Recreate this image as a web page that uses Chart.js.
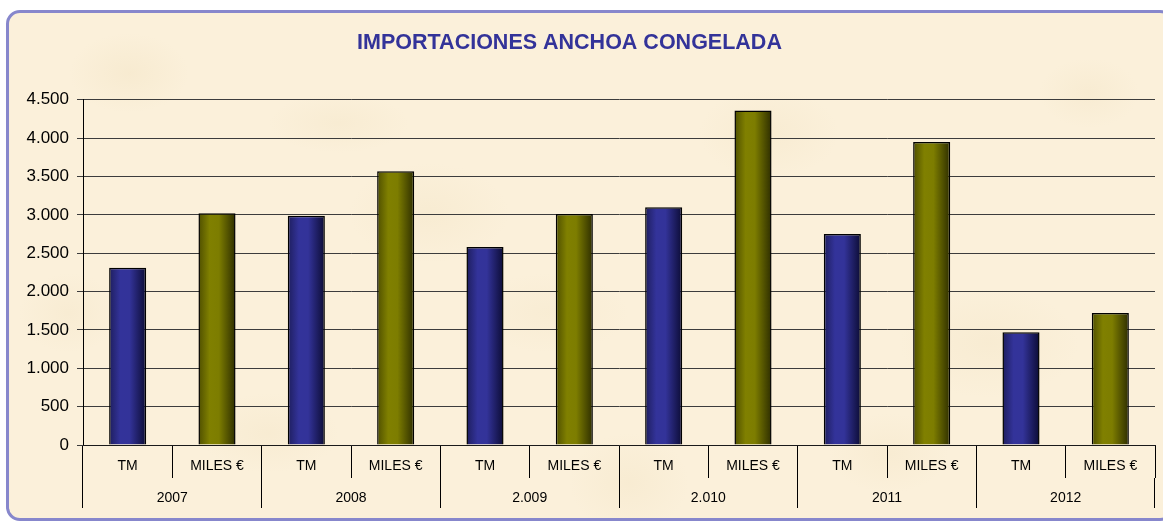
<!DOCTYPE html>
<html>
<head>
<meta charset="utf-8">
<script src="https://cdn.jsdelivr.net/npm/chart.js@4/dist/chart.umd.min.js"></script>
<style>
  html, body { margin: 0; padding: 0; background: #ffffff; overflow: hidden; width: 1163px; height: 522px; }
  #frame {
    position: absolute; left: 6px; top: 10px; width: 1162px; height: 505px;
    border: 3px solid #8787cc; border-radius: 14px;
    background-color: #fbf0da;
    background-image:
      radial-gradient(ellipse 60px 40px at 120px 60px, rgba(230,210,165,0.18), rgba(0,0,0,0)),
      radial-gradient(ellipse 80px 50px at 420px 200px, rgba(230,210,165,0.15), rgba(0,0,0,0)),
      radial-gradient(ellipse 70px 45px at 760px 120px, rgba(230,210,165,0.15), rgba(0,0,0,0)),
      radial-gradient(ellipse 90px 55px at 980px 330px, rgba(230,210,165,0.15), rgba(0,0,0,0)),
      radial-gradient(ellipse 70px 40px at 260px 420px, rgba(230,210,165,0.15), rgba(0,0,0,0)),
      radial-gradient(ellipse 60px 50px at 620px 470px, rgba(230,210,165,0.15), rgba(0,0,0,0)),
      radial-gradient(ellipse 50px 35px at 1080px 80px, rgba(230,210,165,0.15), rgba(0,0,0,0)),
      radial-gradient(ellipse 70px 30px at 330px 110px, rgba(230,210,165,0.14), rgba(0,0,0,0)),
      radial-gradient(ellipse 60px 40px at 880px 440px, rgba(230,210,165,0.14), rgba(0,0,0,0)),
      radial-gradient(ellipse 80px 40px at 540px 300px, rgba(230,210,165,0.12), rgba(0,0,0,0)),
      radial-gradient(ellipse 50px 40px at 60px 300px, rgba(230,210,165,0.14), rgba(0,0,0,0));
  }
  #c { position: absolute; left: 0; top: 0; }
</style>
</head>
<body>
<div id="frame"></div>
<canvas id="c" width="1163" height="522"></canvas>
<script>
// ---- data ----
const years = ['2007', '2008', '2.009', '2.010', '2011', '2012'];
const measures = ['TM', 'MILES €'];
const tmValues = [2310, 2990, 2580, 3100, 2750, 1470];
const milesValues = [3020, 3570, 3010, 4360, 3950, 1720];
const yTickMax = 4500;
const yTickStep = 500;
const chartTitle = 'IMPORTACIONES ANCHOA CONGELADA';

// build interleaved categories / values
const categories = [];
const values = [];
years.forEach((y, i) => {
  categories.push(measures[0]); values.push(tmValues[i]);
  categories.push(measures[1]); values.push(milesValues[i]);
});

const FONT = '"Liberation Sans", Arial, Helvetica, sans-serif';
const BAR_PCT = 0.415;

function barGradient(ctx) {
  const chart = ctx.chart;
  const xs = chart.scales && chart.scales.x;
  const isTM = ctx.dataIndex % 2 === 0;
  const mid = isTM ? '#34349c' : '#808000';
  if (!xs || !chart.chartArea) return mid;
  const cx = xs.getPixelForValue(ctx.dataIndex);
  const w = (xs.right - xs.left) / categories.length * BAR_PCT;
  const g = chart.ctx.createLinearGradient(cx - w / 2, 0, cx + w / 2, 0);
  if (isTM) {
    g.addColorStop(0, '#1e1e5e');
    g.addColorStop(0.3, '#33339a');
    g.addColorStop(0.55, '#333399');
    g.addColorStop(1, '#0c0c35');
  } else {
    g.addColorStop(0, '#4f4f00');
    g.addColorStop(0.3, '#808000');
    g.addColorStop(0.55, '#7d7d00');
    g.addColorStop(1, '#2e2e00');
  }
  return g;
}

const titleShift = {
  id: 'titleShift',
  afterLayout(chart) {
    if (chart.titleBlock) { chart.titleBlock.left -= 16; }
  }
};

Chart.defaults.font.family = FONT;

new Chart(document.getElementById('c'), {
  type: 'bar',
  data: {
    labels: categories,
    datasets: [{
      data: values,
      backgroundColor: barGradient,
      borderColor: '#000000',
      borderWidth: 1.5,
      barPercentage: BAR_PCT,
      categoryPercentage: 1.0
    }]
  },
  plugins: [titleShift],
  options: {
    responsive: false,
    devicePixelRatio: 1,
    animation: false,
    layout: { padding: { left: 0, right: 8, top: 0, bottom: 8 } },
    plugins: {
      legend: { display: false },
      tooltip: { enabled: false },
      title: {
        display: true,
        text: chartTitle,
        color: '#333399',
        font: { family: FONT, size: 21.5, weight: 'bold' },
        padding: { top: 30, bottom: 44 }
      }
    },
    scales: {
      y: {
        min: 0, max: yTickMax,
        afterFit(scale) { scale.width = 83; },
        ticks: {
          stepSize: yTickStep,
          color: '#000000',
          padding: 8,
          font: { family: FONT, size: 17 },
          callback: v => String(v).replace(/\B(?=(\d{3})+(?!\d))/g, '.')
        },
        grid: { color: '#3c3c3c', lineWidth: 1, tickLength: 6, drawTicks: true },
        border: { display: true, color: '#000000', width: 1 }
      },
      x: {
        weight: 0,
        offset: true,
        afterFit(scale) { scale.height = 33; },
        ticks: {
          color: '#000000', padding: -20, maxRotation: 0, autoSkip: false,
          font: { family: FONT, size: 14 }
        },
        grid: { offset: true, drawOnChartArea: false, tickLength: 33, color: '#000000', lineWidth: 1 },
        border: { display: true, color: '#1a1a1a', width: 1 }
      },
      x2: {
        type: 'category',
        labels: years,
        position: 'bottom',
        weight: 1,
        offset: true,
        afterFit(scale) { scale.height = 36; },
        ticks: {
          color: '#000000', padding: -18.5, maxRotation: 0, autoSkip: false,
          font: { family: FONT, size: 14 }
        },
        grid: { offset: true, drawOnChartArea: false, tickLength: 30, color: '#000000', lineWidth: 1 },
        border: { display: false }
      }
    }
  }
});
</script>
</body>
</html>
